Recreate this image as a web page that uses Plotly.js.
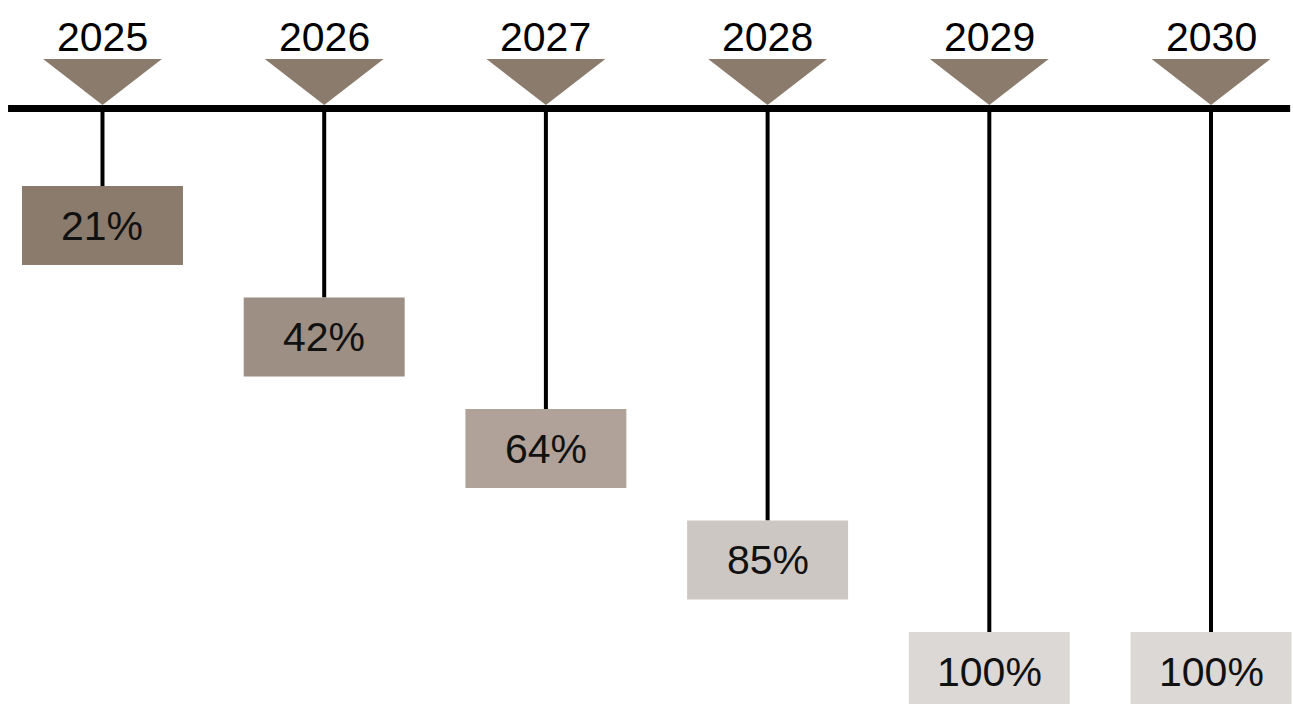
<!DOCTYPE html>
<html>
<head>
<meta charset="utf-8">
<script src="https://cdn.plot.ly/plotly-3.0.1.min.js"></script>
<style>html,body{margin:0;padding:0;background:#fff;}#chart{width:1293px;height:704px;}</style>
</head>
<body>
<div id="chart"></div>
<script>
// Data
var years = ["2025", "2026", "2027", "2028", "2029", "2030"];
var shares = [21, 42, 64, 85, 100, 100];
var levels = [1, 2, 3, 4, 5, 5];
var boxColors = ["#8b7b6c", "#9d8f83", "#b0a298", "#cdc7c3", "#dcd8d6", "#dcd8d6"];

// Geometry / style constants (pixel-based y axis)
var axisY = 108.5;          // horizontal timeline
var firstBoxTop = 186;       // top of level-1 box
var levelStep = 111.5;       // vertical step between levels
var boxH = 79;
var boxHalfW = 0.363;        // in x units
var triHalfW = 0.268;
var triTop = 59;
var triTip = 105;
var markerColor = "#8b7b6c";
var fontFam = "Liberation Sans, Arial, sans-serif";

var shapes = [];
var annotations = [];

// main horizontal line
shapes.push({type: "line", xref: "x", yref: "y", x0: -0.426, x1: 5.357, y0: axisY, y1: axisY,
  line: {color: "#000", width: 7}, layer: "above"});

years.forEach(function (yr, i) {
  var top = firstBoxTop + (levels[i] - 1) * levelStep;
  // stem
  shapes.push({type: "line", xref: "x", yref: "y", x0: i, x1: i, y0: axisY, y1: top,
    line: {color: "#000", width: 4}, layer: "below"});
  // box
  shapes.push({type: "rect", xref: "x", yref: "y", x0: i - boxHalfW, x1: i + boxHalfW,
    y0: top, y1: top + boxH, fillcolor: boxColors[i], line: {width: 0}, layer: "above"});
  // triangle marker
  shapes.push({type: "path", xref: "x", yref: "y",
    path: "M " + (i - triHalfW) + " " + triTop + " L " + (i + triHalfW) + " " + triTop + " L " + i + " " + triTip + " Z",
    fillcolor: markerColor, line: {width: 0}, layer: "above"});
  // year label
  annotations.push({x: i, y: 37, xref: "x", yref: "y", text: yr, showarrow: false,
    font: {family: fontFam, size: 41, color: "#000"}, xanchor: "center", yanchor: "middle"});
  // percentage label
  annotations.push({x: i, y: top + boxH / 2, xref: "x", yref: "y", text: shares[i] + "%", showarrow: false,
    font: {family: fontFam, size: 41, color: "#111"}, xanchor: "center", yanchor: "middle"});
});

var trace = {x: years.map(function (_, i) { return i; }), y: years.map(function () { return axisY; }),
  type: "scatter", mode: "markers", marker: {opacity: 0}, hoverinfo: "skip", showlegend: false};

var layout = {
  width: 1293, height: 704,
  margin: {l: 0, r: 0, t: 0, b: 0},
  paper_bgcolor: "#fff", plot_bgcolor: "#fff",
  xaxis: {range: [-0.4623, 5.3698], visible: false, fixedrange: true},
  yaxis: {range: [704, 0], visible: false, fixedrange: true},
  shapes: shapes,
  annotations: annotations,
  showlegend: false
};

Plotly.newPlot("chart", [trace], layout, {displayModeBar: false, staticPlot: true});
</script>
</body>
</html>
